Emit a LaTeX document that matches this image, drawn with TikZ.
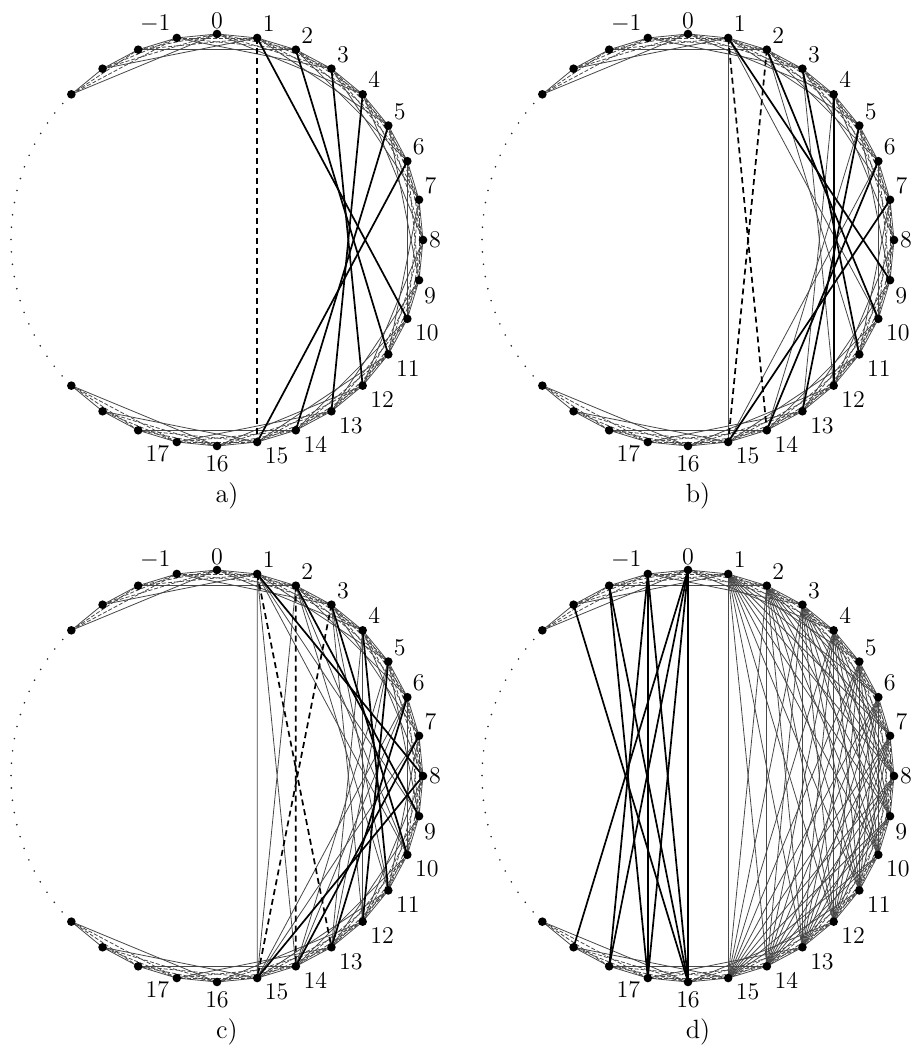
\documentclass[tikz,border=0pt]{standalone}
\usepackage{tikz}

\begin{document}
\begin{tikzpicture}[x=0.5pt, y=0.5pt, every node/.style={font=\fontsize{13.2}{15}\selectfont, inner sep=0pt},
  thin chord/.style={black!72, line width=0.4pt},
  thin dash/.style={thin chord, dash pattern=on 2pt off 1pt},
  band1/.style={thin chord}, band2/.style={thin dash},
  band3/.style={thin dash}, band4/.style={thin chord},
  bold chord/.style={black, line width=0.85pt},
  bold dash/.style={black, line width=0.85pt, dash pattern=on 3pt off 2pt},
  gap dots/.style={black!85, line width=0.9pt, line cap=round, dash pattern=on 0pt off 6.2pt}]

\useasboundingbox (0,0) rectangle (912,1058);

% Points -4 ... 20 on each circle, 11.25 degrees apart, with the short chords
\foreach \p/\cx/\cy in {a/217/818, b/688/818, c/217/282, d/688/282}{
  \foreach \k in {-4,...,20}
    \coordinate (\p\k) at ([shift={(\cx,\cy)}]{90-11.25*\k}:206);
  \foreach \k in {-4,...,19}
    \foreach \d in {1,...,4}{
      \pgfmathtruncatemacro\j{\k+\d}
      \ifnum\j<21 \draw[band\d] (\p\k) -- (\p\j); \fi
    }
  % the missing part of the circle
  \draw[gap dots] ([shift={(\cx,\cy)}]138.5:206) arc[start angle=138.5, end angle=221.5, radius=206];
}

% a)
\foreach \k in {1,...,6}{
  \pgfmathtruncatemacro\j{\k+9}
  \draw[bold chord] (a\k) -- (a\j);
}
\draw[bold dash] (a1) -- (a15);

% b)
\foreach \k in {1,...,6}{
  \pgfmathtruncatemacro\j{\k+9}
  \draw[thin chord] (b\k) -- (b\j);
}
\draw[thin chord] (b1) -- (b15);
\foreach \k in {1,...,7}{
  \pgfmathtruncatemacro\j{\k+8}
  \draw[bold chord] (b\k) -- (b\j);
}
\draw[bold dash] (b1) -- (b14) (b2) -- (b15);

% c)
\foreach \d/\n in {9/6, 8/7}
  \foreach \k in {1,...,\n}{
    \pgfmathtruncatemacro\j{\k+\d}
    \draw[thin chord] (c\k) -- (c\j);
  }
\draw[thin chord] (c1) -- (c15) (c1) -- (c14) (c2) -- (c15);
\foreach \k in {1,...,8}{
  \pgfmathtruncatemacro\j{\k+7}
  \draw[bold chord] (c\k) -- (c\j);
}
\draw[bold dash] (c1) -- (c13) (c2) -- (c14) (c3) -- (c15);

% d)
\foreach \d in {5,...,14}{
  \pgfmathtruncatemacro\n{15-\d}
  \foreach \k in {1,...,\n}{
    \pgfmathtruncatemacro\j{\k+\d}
    \draw[thin chord] (d\k) -- (d\j);
  }
}
\foreach \k in {-3,...,0}
  \foreach \j in {16,...,19}{
    \pgfmathtruncatemacro\s{\j-\k}
    \ifnum\s<20 \draw[bold chord] (d\k) -- (d\j); \fi
  }

% Vertices, numbers and panel names
\foreach \p/\cx/\cy in {a/217/818, b/688/818, c/217/282, d/688/282}{
  \foreach \k in {-4,...,20}
    \fill (\p\k) circle (4.3);
  \foreach \k/\a/\dx/\dy in {-1/south east/-3/2.5, 0/south/0/2.5, 1/south west/2.6/3, 2/south west/2.6/3,
      3/south west/2.6/3, 4/south west/2.6/3, 5/south west/2.6/3, 6/south west/2.6/3, 7/south west/2.6/3,
      8/west/2.9/0, 9/north west/2.4/-3.5, 10/north west/3.7/-3, 11/north west/3.7/-3, 12/north west/3.7/-3,
      13/north west/3.7/-3, 14/north west/3.7/-3, 15/north west/3.7/-3, 16/north/0/-5, 17/north east/-3.7/-2}
    \node[anchor=\a, xshift=\dx pt, yshift=\dy pt] (\p lab\k) at (\p\k) {$\k$};
  \node (\p name) at (\cx+10,\cy-256) {\p)};
}

\end{tikzpicture}
\end{document}
